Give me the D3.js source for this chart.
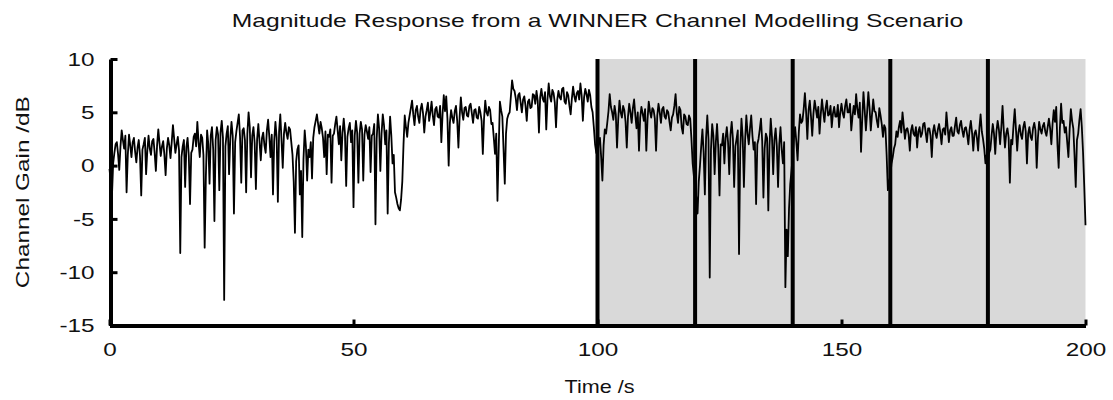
<!DOCTYPE html>
<html>
<head>
<meta charset="utf-8">
<script src="https://cdn.jsdelivr.net/npm/d3@7/dist/d3.min.js"></script>
<style>
  html, body { margin: 0; padding: 0; background: #fff; }
  svg { display: block; }
  text { font-family: "Liberation Sans", Arial, Helvetica, sans-serif; fill: #111; }
</style>
</head>
<body>
<svg id="chart" width="1113" height="400"></svg>
<script>
// Sample spacing of the gain trace, seconds
const sampleStep = 0.25;

// Channel gain in dB, one value per 0.25 s, one row per 10 s, ending with the 200 s sample
const gain0to50 = [
  -0.3, -1.5, -2.9, 0.2, 1.2, 2.0, 2.2, 1.1, -0.4, 1.8, 3.3, 2.4, 1.6, 2.8, -2.5, 1.0, 2.9, 1.9, 0.8, 2.2,
  2.6, 1.3, 0.3, 1.7, 2.4, 0.9, -2.8, 1.5, 2.0, 2.6, -0.8, 1.4, 2.8, 1.6, 1.0, 2.3, 2.5, 1.2, -0.5, 1.9,

  3.4, 2.1, 0.9, 1.8, 2.3, 1.0, -0.9, 1.6, 2.6, 1.9, 0.7, 2.2, 3.8, 2.5, 1.2, 2.0, 2.7, 1.4, -8.2, 0.8,
  1.8, 2.4, -2.0, 1.7, 2.6, 0.9, -3.6, 1.2, 1.5, 2.7, 3.0, 1.8, 4.1, 2.2, 0.8, 2.9, 2.6, 1.0, -7.7, -1.0,

  3.3, 2.0, -1.7, 2.8, 3.6, 1.5, -5.2, 2.4, 3.6, 2.9, -2.3, 3.1, 4.2, 2.6, -12.6, 1.8, 3.0, 3.7, -0.8, 2.5,
  4.1, 2.8, -4.5, 2.2, 3.2, 4.0, 4.8, 2.7, -1.6, 3.3, 3.5, 2.4, -2.5, 3.0, 5.0, 3.6, -1.1, 2.8, 3.6, 2.1,

  -2.2, 2.5, 3.9, 2.2, 0.5, 2.6, 3.1, 1.9, 1.2, 3.3, 4.3, 2.7, 0.8, 2.9, -2.7, 2.3, 4.1, 2.6, -3.4, 3.2,
  4.8, 2.4, -0.2, 3.0, 4.0, 3.1, 2.5, 3.6, 3.4, 2.2, 1.0, -1.5, -6.3, 0.4, 1.5, 1.9, -2.7, -0.5, -6.7, 0.6,

  3.3, 1.8, -1.4, 1.5, 0.8, 2.2, -1.2, 2.6, 3.6, 4.2, 4.8, 3.9, 3.0, 4.1, 3.5, 2.6, 0.8, 3.2, -0.8, 2.9,
  2.7, 3.4, -1.6, 2.8, 3.0, 3.9, 4.6, 3.3, 2.0, 3.7, 0.5, 3.1, 4.4, 3.0, -1.9, 2.7, 3.5, 4.0, 2.2, 3.3
];
const gain50to100 = [
  -3.9, 2.8, 4.2, 3.1, -1.6, 3.0, 4.1, 3.4, -1.4, 2.9, 3.8, 3.2, 2.5, 3.6, -0.6, 2.8, 3.0, 3.9, -5.5, 2.5,
  4.8, 3.5, -0.5, 3.0, 4.8, 3.8, 2.0, 3.3, -4.5, 2.1, 4.6, 2.8, 0.2, 1.0, -2.5, -3.0, -3.6, -4.0, -4.2, -3.2,

  -1.5, 2.0, 4.7, 3.6, 2.7, 4.0, 4.7, 5.4, 6.1, 4.8, 3.8, 5.2, 5.6, 4.6, 4.0, 5.3, 5.8, 4.9, 3.1, 4.6,
  5.2, 5.9, 4.2, 5.0, 6.0, 4.7, 3.8, 5.3, 5.5, 4.6, 4.5, 5.6, 2.2, 4.8, 6.6, 5.1, 6.5, 4.4, 0.0, 4.0,

  5.2, 4.5, 4.0, 5.1, 5.6, 4.2, 1.7, 4.6, 6.4, 5.0, 4.3, 5.4, 5.5, 4.7, 4.6, 5.6, 5.8, 4.9, 4.0, 5.2,
  5.3, 4.5, 4.4, 5.5, 5.0, 4.2, 1.1, 4.4, 6.1, 5.0, 4.7, 5.5, 5.2, 3.9, 4.0, 2.6, 1.1, 3.0, -3.3, 1.5,

  6.0, 5.2, 4.6, 1.5, -1.7, 3.0, 4.4, 4.8, 5.0, 6.5, 8.0, 7.2, 7.0, 6.3, 5.2, 6.6, 6.8, 5.9, 5.0, 6.2,
  6.5, 5.6, 4.2, 6.0, 6.2, 5.4, 5.5, 6.7, 6.6, 5.8, 7.0, 6.1, 3.1, 6.4, 7.2, 6.3, 6.0, 6.9, 3.4, 6.2,

  7.7, 6.5, 6.0, 7.1, 6.8, 5.9, 3.6, 6.2, 7.0, 6.4, 6.2, 7.2, 7.3, 6.0, 5.8, 6.9, 6.6, 5.6, 4.8, 6.3,
  7.4, 6.5, 6.0, 6.8, 7.0, 6.2, 7.7, 6.6, 4.2, 6.4, 7.2, 6.7, 6.0, 7.1, 6.6, 5.5, 5.0, 3.6, 2.0, 1.2
];
const gain100to150 = [
  1.0, 2.2, 2.6, 0.8, -1.4, 1.9, 3.4, 3.0, 4.0, 5.1, 6.7, 5.5, 5.0, 4.3, 5.6, 4.8, 1.7, 4.4, 6.1, 5.0,
  4.5, 5.6, 5.2, 4.1, 1.7, 4.6, 5.8, 5.0, 4.0, 5.4, 6.2, 4.7, 3.5, 5.0, 1.4, 4.5, 5.5, 4.9, 4.2, 5.3,

  1.4, 4.3, 6.0, 5.1, 4.5, 5.4, 5.2, 4.4, 1.4, 4.7, 5.8, 5.0, 4.0, 5.3, 5.5, 4.6, 4.4, 5.2, 5.0, 4.1,
  3.3, 4.5, 4.8, 5.6, 6.7, 4.9, 4.0, 5.5, 5.2, 3.6, 3.0, 4.8, 4.6, 3.9, 3.8, 4.7, 4.4, 2.5, 0.2, -1.0,

  -2.0, -3.0, -4.5, -1.5, 0.0, 1.8, 3.4, 1.2, -2.7, 2.6, 4.7, 2.4, -10.5, 1.5, 3.9, 2.8, -0.8, 2.2, 3.9, 1.6,
  -2.8, 2.0, 1.9, 3.0, 0.2, 2.6, 3.6, 2.2, -0.8, 2.9, 4.1, 2.5, -2.0, 1.8, 2.5, 3.3, -8.3, 1.5, 4.4, 2.7,

  -2.0, 2.4, 4.7, 3.0, 2.0, 3.5, 4.7, 2.8, 1.5, 2.2, -3.6, 2.0, 2.5, 3.4, 4.4, 2.3, -3.0, 1.6, 3.0, 2.6,
  -4.2, 1.9, 4.4, 2.7, -0.8, 2.4, 3.5, 1.8, -2.0, 2.0, 3.6, 1.5, 0.2, 2.2, -11.4, -6.0, -8.5, -4.0, -1.7, -0.5,

  1.0, 2.6, 3.6, 2.2, 0.5, 3.1, 4.8, 4.0, 4.2, 5.3, 6.8, 5.0, 2.5, 5.2, 6.1, 4.6, 2.8, 4.9, 6.1, 5.3,
  4.5, 5.5, 3.0, 4.8, 6.2, 5.1, 4.1, 5.4, 6.1, 4.7, 4.8, 5.6, 3.6, 4.9, 5.5, 4.6, 4.6, 5.7, 3.6, 5.0
];
const gain150to200 = [
  5.8, 4.9, 4.5, 5.6, 6.2, 5.0, 5.0, 5.8, 3.3, 4.6, 5.6, 4.8, 6.7, 5.3, 4.5, 5.9, 1.3, 4.4, 6.9, 5.2,
  3.3, 5.0, 6.9, 5.4, 3.3, 4.8, 6.2, 5.1, 5.0, 4.2, 3.6, 5.4, 4.7, 3.9, 2.7, 3.8, 3.5, 1.0, -2.3, -1.5,

  -1.0, 0.2, 0.8, 1.6, 2.0, 3.2, 2.7, 3.6, 4.2, 3.1, 5.0, 3.8, 2.5, 3.4, 3.5, 2.9, 1.4, 3.3, 3.8, 3.0,
  2.8, 3.6, 1.7, 3.2, 3.6, 2.7, 3.0, 3.9, 4.0, 3.1, 2.2, 3.5, 3.5, 2.8, 0.8, 3.2, 3.8, 3.0, 2.6, 3.4,

  3.9, 3.1, 2.0, 3.4, 3.5, 2.9, 5.0, 3.6, 2.2, 3.3, 3.6, 2.8, 2.8, 3.7, 4.5, 3.2, 3.0, 3.8, 4.2, 3.3,
  2.7, 3.5, 3.6, 2.9, 2.0, 3.4, 4.2, 3.1, 1.4, 3.0, 3.3, 2.6, 1.4, 3.5, 4.8, 3.2, 2.5, 1.6, 0.2, 1.0,

  0.2, 1.2, 1.5, 2.8, 3.9, 3.0, 1.1, 3.2, 4.2, 3.4, 2.0, 3.6, 5.6, 3.3, 1.7, 3.0, 3.5, 2.6, -1.6, 2.4,
  2.0, 3.8, 5.3, 3.4, 1.4, 3.1, 3.8, 2.9, 2.5, 3.6, 4.1, 3.2, 0.2, 3.0, 3.6, 2.7, 2.4, 3.5, 4.0, 3.3,

  -0.2, 2.6, 4.1, 3.4, 3.0, 3.7, 4.0, 3.2, 2.8, 3.6, 4.4, 3.5, 2.0, 3.9, 5.2, 4.1, 5.5, 2.0, -0.2, 3.5,
  5.8, 4.0, 4.2, 3.1, 3.6, 2.2, 0.8, 3.4, 5.3, 4.2, 3.5, 1.0, -2.0, 2.4, 3.0, 4.3, 5.3, 3.6, 1.2, -2.0,
  -5.6
];

// Boundaries between modelling scenarios, seconds
const scenarioBreaks = [100, 120, 140, 160, 180];
// Span of the shaded part of the record, seconds
const shadedSpan = [100, 200];

// Axis ticks
const xTicks = [0, 50, 100, 150, 200];
const yTicks = [10, 5, 0, -5, -10, -15];

const titleText = "Magnitude Response from a WINNER Channel Modelling Scenario";
const xLabel = "Time /s";
const yLabel = "Channel Gain /dB";

// Text is set in a wide sans: regular glyphs stretched horizontally
const fontSize = 18;
const stretch = 1.35;

const gain = [].concat(gain0to50, gain50to100, gain100to150, gain150to200);
const series = gain.map((g, i) => ({ t: i * sampleStep, g }));

const svg = d3.select("#chart");

const x = d3.scaleLinear().domain([0, 200]).range([109.5, 1085.5]);
const y = d3.scaleLinear().domain([-15, 10]).range([325.5, 59]);

// Shaded region
svg.append("rect")
  .attr("x", x(shadedSpan[0]))
  .attr("y", y(10))
  .attr("width", x(shadedSpan[1]) - x(shadedSpan[0]))
  .attr("height", y(-15) - y(10))
  .attr("fill", "#d9d9d9");

// Gain trace
const line = d3.line().x(d => x(d.t)).y(d => y(d.g));
svg.append("path")
  .datum(series)
  .attr("d", line)
  .attr("fill", "none")
  .attr("stroke", "#000")
  .attr("stroke-width", 1.8)
  .attr("stroke-linejoin", "round");

// Scenario boundaries
svg.append("g")
  .selectAll("line")
  .data(scenarioBreaks)
  .join("line")
  .attr("x1", d => x(d)).attr("x2", d => x(d))
  .attr("y1", y(10)).attr("y2", y(-15))
  .attr("stroke", "#000")
  .attr("stroke-width", 4);

// Axes with inward ticks; labels use a plain hyphen for negatives
const plainFormat = d => String(d);
const xAxis = svg.append("g")
  .attr("transform", `translate(0,${y(-15)})`)
  .call(d3.axisBottom(x).tickValues(xTicks).tickFormat(plainFormat)
    .tickSizeInner(-6).tickSizeOuter(0).tickPadding(18));
const yAxis = svg.append("g")
  .attr("transform", `translate(${x(0) + 1},0)`)
  .call(d3.axisLeft(y).tickValues(yTicks).tickFormat(plainFormat)
    .tickSizeInner(-7).tickSizeOuter(0).tickPadding(16));

[xAxis, yAxis].forEach(g => {
  g.select(".domain").attr("stroke", "#000").attr("stroke-width", 4);
  g.selectAll(".tick line").attr("stroke", "#000").attr("stroke-width", 3);
  g.selectAll(".tick text")
    .attr("font-size", fontSize)
    .attr("fill", "#111")
    .attr("font-family", "Liberation Sans, Arial, sans-serif")
    .attr("x", function () { return (+this.getAttribute("x") || 0) / stretch; })
    .attr("transform", `scale(${stretch},1)`);
});
yAxis.selectAll(".tick text").attr("dy", "0.35em");
xAxis.selectAll(".tick text").attr("dy", "0.71em");

// Titles
svg.append("text")
  .attr("transform", `translate(${(x(0) + x(200)) / 2},27) scale(1.37,1)`)
  .attr("text-anchor", "middle")
  .attr("font-size", fontSize)
  .text(titleText);

svg.append("text")
  .attr("transform", `translate(${(x(0) + x(200)) / 2 + 2},393) scale(1.2,1)`)
  .attr("text-anchor", "middle")
  .attr("font-size", fontSize)
  .text(xLabel);

svg.append("text")
  .attr("transform", `translate(29,${(y(10) + y(-15)) / 2}) rotate(-90) scale(${stretch},1)`)
  .attr("text-anchor", "middle")
  .attr("font-size", fontSize)
  .text(yLabel);
</script>
</body>
</html>
